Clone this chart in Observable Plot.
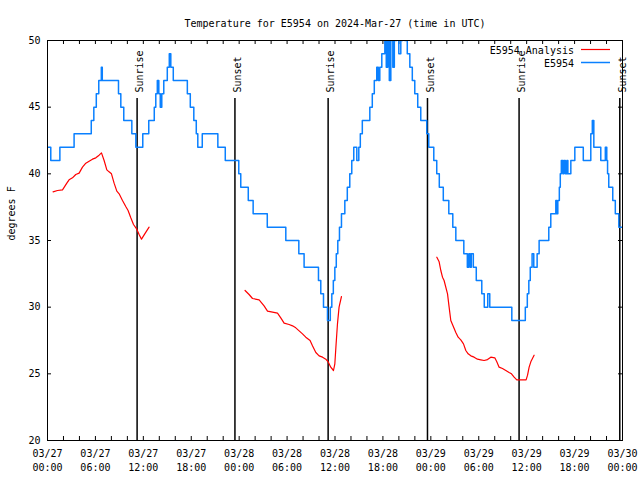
<!DOCTYPE html>
<html><head><meta charset="utf-8">
<script src="https://cdn.jsdelivr.net/npm/d3@7"></script>
<script src="https://cdn.jsdelivr.net/npm/@observablehq/plot@0.6"></script>
<style>body{margin:0;background:#fff} svg{font-family:"DejaVu Sans Mono",monospace}</style>
</head><body><div id="chart"></div>
<script>
const title = "Temperature for E5954 on 2024-Mar-27 (time in UTC)";
const yLabel = "degrees F";
const seriesNames = ["E5954 Analysis", "E5954"];
const seriesColors = ["#ff0000", "#0a80ff"];
const startUTC = "2024-03-27T00:00:00Z";

// E5954 observations: hours since start, temperature (°F)
const obsHours = [0,0.41,1.55,3.33,5.48,5.80,6.11,6.42,6.74,6.86,8.89,9.18,9.55,10.56,11.06,11.93,12.68,13.37,13.56,13.75,13.94,14.12,14.31,14.56,15.00,15.25,15.44,15.75,17.51,17.88,18.32,18.63,18.82,19.38,21.33,22.26,23.95,24.2,25.14,25.75,27.52,29.84,31.47,32.13,33.93,34.22,34.56,35.06,35.41,35.6,35.79,35.98,36.16,36.35,36.56,36.81,37.23,37.54,37.85,38.1,38.35,38.73,38.98,39.17,39.42,40.36,40.67,40.92,41.23,41.42,41.61,41.86,42.24,42.42,42.61,42.8,42.99,43.24,43.43,43.74,43.99,44.24,44.49,44.74,45.05,45.37,45.68,45.99,46.36,46.74,47.49,47.74,48.37,48.74,49.06,49.56,50.25,50.75,51.13,52.13,52.57,52.76,52.94,53.07,53.32,53.69,54.38,54.69,55.13,55.38,58.14,59.83,60.08,60.27,60.45,60.68,60.89,61.31,61.56,62.77,63.02,63.65,63.77,63.9,64.09,64.21,64.34,64.53,64.66,64.84,65.03,65.16,65.53,66.03,67.09,68.03,68.22,68.41,69.28,69.85,70.03,70.13,70.28,70.78,71.1,71.54,72];
const obsTemps = [42,41,42,43,44,45,46,47,48,47,46,45,44,43,42,43,44,45,46,47,46,45,46,47,48,49,48,47,46,45,44,43,42,43,42,41,40,39,38,37,36,35,34,33,32,31,30,29,30,31,32,33,34,35,36,37,38,39,40,41,42,41,42,43,44,45,46,47,48,47,48,49,50,48,51,47,50,48,50,51,49,50,51,50,49,48,47,46,45,44,43,42,41,40,39,38,37,36,35,34,33,34,33,34,33,32,31,30,31,30,29,30,31,32,33,34,33,34,35,36,37,38,37,38,39,40,41,40,41,40,41,40,41,42,41,43,44,42,41,42,41,40,39,38,37,36,36];

// E5954 Analysis, three runs: hours since start, temperature (°F)
const anaHours1 = [0.70,1.25,1.88,2.10,2.42,2.70,3.13,3.54,3.96,4.38,4.80,5.21,5.63,6.05,6.46,6.76,7.09,7.43,7.71,8.01,8.34,8.68,8.97,9.39,9.80,10.09,10.43,10.77,11.18,11.47,11.77,12.18,12.72];
const anaTemps1 = [38.65,38.75,38.8,39.0,39.3,39.55,39.7,39.95,40.05,40.5,40.8,40.95,41.1,41.2,41.4,41.57,41.0,40.3,40.15,40.0,39.3,38.7,38.5,38.0,37.55,37.25,36.7,36.2,35.85,35.45,35.1,35.5,36.0];
const anaHours2 = [24.74,25.24,25.67,26.50,27.12,27.55,28.80,29.21,29.63,30.25,30.68,31.09,31.93,32.34,32.88,33.18,33.60,34.01,34.44,34.85,35.14,35.47,35.81,35.98,36.14,36.31,36.51,36.81];
const anaTemps2 = [31.25,30.95,30.65,30.55,30.1,29.7,29.55,29.2,28.8,28.7,28.6,28.45,28.0,27.75,27.5,27.1,26.6,26.35,26.25,26.1,25.9,25.5,25.25,25.75,27.25,28.75,30.0,30.8];
const anaHours3 = [48.75,49.04,49.25,49.46,49.66,50.09,50.29,50.50,50.71,51.13,51.42,51.75,52.09,52.38,52.67,53.01,53.42,53.84,54.26,54.67,55.10,55.51,56.01,56.26,56.55,56.97,57.39,57.80,58.10,58.43,58.76,59.93,60.11,60.31,60.52,60.93];
const anaTemps3 = [33.75,33.4,32.75,32.25,32.0,31.0,30.0,29.0,28.7,28.1,27.75,27.55,27.25,26.75,26.5,26.35,26.25,26.1,26.05,26.0,26.07,26.25,26.2,25.9,25.5,25.4,25.25,25.1,25.0,24.75,24.55,24.55,24.9,25.5,25.9,26.4];

const sunHours = [11.22, 23.47, 35.14, 47.58, 59.05, 71.66];
const sunLabels = ["Sunrise", "Sunset", "Sunrise", "Sunset", "Sunrise", "Sunset"];

const yTicks = [20, 25, 30, 35, 40, 45, 50];
const xLabelHours = [0, 6, 12, 18, 24, 30, 36, 42, 48, 54, 60, 66, 72];
const xTickHours = [0,2,4,6,8,10,12,14,16,18,20,22,24,26,28,30,32,34,36,38,40,42,44,46,48,50,52,54,56,58,60,62,64,66,68,70,72];

const base = new Date(startUTC).getTime();
const toDate = h => new Date(base + h * 3600e3);
const obs = obsHours.map((h, i) => ({t: toDate(h), v: obsTemps[i]}));
const ana = [[anaHours1, anaTemps1], [anaHours2, anaTemps2], [anaHours3, anaTemps3]]
  .flatMap(([hs, ts], s) => hs.map((h, i) => ({t: toDate(h), v: ts[i], seg: s})));
const sun = sunHours.map((h, i) => ({t: toDate(h), label: sunLabels[i]}));

const W = 640, H = 480, mL = 47, mR = 18, mT = 40, mB = 40;
const plotW = W - mL - mR, plotH = H - mT - mB;

const chart = Plot.plot({
  width: W, height: H,
  marginLeft: mL, marginRight: mR, marginTop: mT, marginBottom: mB,
  style: {fontFamily: '"DejaVu Sans Mono", monospace', fontSize: "10px", background: "#fff", color: "#000", overflow: "visible"},
  x: {type: "utc", domain: [toDate(0), toDate(72)]},
  y: {domain: [20, 50]},
  marks: [
    Plot.ruleX(xTickHours.map(toDate), {insetTop: plotH - 4, stroke: "#000"}),
    Plot.ruleX(xTickHours.map(toDate), {insetBottom: plotH - 4, stroke: "#000"}),
    Plot.ruleY(yTicks, {insetRight: plotW - 4, stroke: "#000"}),
    Plot.ruleY(yTicks, {insetLeft: plotW - 4, stroke: "#000"}),
    Plot.axisX(xLabelHours.map(toDate), {tickSize: 0, tickPadding: 7, tickFormat: d3.utcFormat("%m/%d\n%H:%M"), lineHeight: 1.4, label: null, fill: "#000"}),
    Plot.axisY(yTicks, {tickSize: 0, tickPadding: 7, label: null, fill: "#000"}),
    Plot.text([yLabel], {frameAnchor: "left", dx: -36, rotate: -90, fill: "#000"}),
    Plot.text([title], {frameAnchor: "top", dy: -21, fill: "#000"}),
    Plot.ruleX(sun, {x: "t", insetTop: 58, stroke: "#000", strokeWidth: 1.5}),
    Plot.text(sun, {x: "t", text: "label", frameAnchor: "top", dy: 52, dx: -1, rotate: -90, textAnchor: "start", fill: "#000"}),
    Plot.line(ana, {x: "t", y: "v", z: "seg", stroke: seriesColors[0], strokeWidth: 1.2}),
    Plot.line(obs, {x: "t", y: "v", stroke: seriesColors[1], strokeWidth: 1.5, curve: "step-after", clip: true}),
    Plot.frame({stroke: "#000"})
  ]
});

// legend (top right, gnuplot style)
const svg = d3.select(chart);
const lg = svg.append("g");
seriesNames.forEach((name, i) => {
  const y = 50 + i * 13;
  lg.append("text").attr("x", 574).attr("y", y).attr("text-anchor", "end")
    .attr("dominant-baseline", "central").attr("font-size", 10).attr("fill", "#000").text(name);
  lg.append("line").attr("x1", 581).attr("x2", 610).attr("y1", y - 0.5).attr("y2", y - 0.5)
    .attr("stroke", seriesColors[i]).attr("stroke-width", i === 0 ? 1.2 : 1.5);
});
document.getElementById("chart").appendChild(chart);
</script>
</body></html>
